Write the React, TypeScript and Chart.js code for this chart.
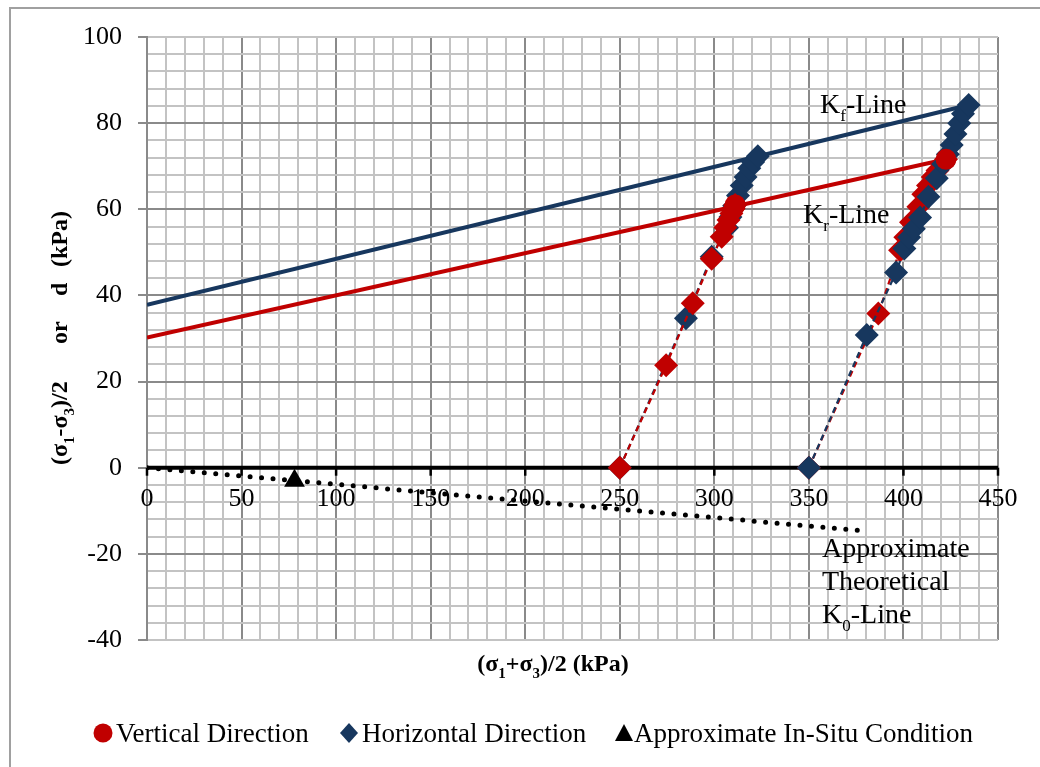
import React, { useEffect, useRef } from "react";
import { Chart, registerables } from "chart.js";

Chart.register(...registerables);

const FONT = '"Liberation Serif", "Times New Roman", serif';
const RED = "#C00000";
const NAVY = "#17375E";
const GRID_MAJOR = "#8a8a8a";
const GRID_MINOR = "#c3c3c3";

const X_MIN = 0;
const X_MAX = 450;
const Y_MIN = -40;
const Y_MAX = 100;
const xLabelValues = [0, 50, 100, 150, 200, 250, 300, 350, 400, 450];

// Vertical direction, test 1 (low confinement)
const vert1X = [250, 274.5, 288.6, 298.6, 303.9, 305.8, 307.5, 309, 310.2, 311];
const vert1Y = [0, 23.8, 38.2, 48.5, 53.6, 55.8, 57.5, 59, 60.2, 61];
// Horizontal direction, test 1
const horiz1X = [250, 285, 298.6, 306.7, 308.5, 310.5, 312.5, 314.5, 316.5, 318.5, 320.5, 323];
const horiz1Y = [0, 34.7, 49, 55.7, 58.2, 60.8, 63.2, 65.5, 67.5, 69.5, 71, 72.3];
// Vertical direction, test 2
const vert2X = [350, 386.7, 398.2, 401, 404, 407.9, 410.5, 413, 415.5, 418, 420.5, 422.5];
const vert2Y = [0, 35.8, 50.5, 53.5, 57, 60.6, 63.5, 65.5, 67.5, 69, 70.5, 71.6];
// Horizontal direction, test 2
const horiz2X = [350, 380.6, 396.1, 400.5, 403, 405.5, 408.8, 413.2, 417.6, 421, 423.5, 425.5, 427.5, 429.5, 431.5, 434.5];
const horiz2Y = [0, 30.8, 45.3, 50.9, 53.5, 55.5, 58.1, 62.9, 67.2, 70.5, 72.8, 74.9, 77.5, 80, 82.2, 84.2];
// Peak (failure) points, vertical direction
const peakX = [311, 422.5];
const peakY = [61, 71.6];
// Failure envelopes
const kfX = [0, 434.5];
const kfY = [37.8, 84.2];
const krX = [0, 422.5];
const krY = [30.2, 71.6];
// Approximate theoretical K0 line
const k0X = [0, 378];
const k0Y = [0, -14.6];
// Approximate in-situ condition
const inSituX = [78];
const inSituY = [-3];

const zip = (xs: number[], ys: number[]) => xs.map((x, i) => ({ x, y: ys[i] }));

type Seg = { t: string; sub?: boolean };

function drawRich(
  ctx: CanvasRenderingContext2D,
  segs: Seg[],
  x: number,
  y: number,
  size: number,
  weight: string,
  align: "left" | "center"
) {
  const subSize = Math.round(size * 0.62);
  const f = (s: number) => `${weight} ${s}px ${FONT}`;
  let total = 0;
  for (const s of segs) {
    ctx.font = f(s.sub ? subSize : size);
    total += ctx.measureText(s.t).width;
  }
  let cx = align === "center" ? x - total / 2 : x;
  ctx.textAlign = "left";
  ctx.textBaseline = "alphabetic";
  for (const s of segs) {
    ctx.font = f(s.sub ? subSize : size);
    ctx.fillText(s.t, cx, s.sub ? y + size * 0.3 : y);
    cx += ctx.measureText(s.t).width;
  }
}

const overlayPlugin = {
  id: "overlay",
  beforeDatasetsDraw(chart: any) {
    const { ctx, scales, chartArea } = chart;
    const xs = scales.x;
    const ys = scales.y;
    const y0 = ys.getPixelForValue(0);
    ctx.save();
    // zero line
    ctx.strokeStyle = "#000";
    ctx.lineWidth = 4;
    ctx.beginPath();
    ctx.moveTo(chartArea.left, y0);
    ctx.lineTo(chartArea.right, y0);
    ctx.stroke();
    // tick marks
    ctx.lineWidth = 2.5;
    for (const v of xLabelValues) {
      const px = xs.getPixelForValue(v);
      ctx.beginPath();
      ctx.moveTo(px, y0);
      ctx.lineTo(px, y0 + 8);
      ctx.stroke();
    }
    // tick labels
    ctx.fillStyle = "#000";
    ctx.font = `26px ${FONT}`;
    ctx.textAlign = "center";
    ctx.textBaseline = "middle";
    for (const v of xLabelValues) {
      ctx.fillText(String(v), xs.getPixelForValue(v), y0 + 31);
    }
    ctx.restore();
  },
  afterDraw(chart: any) {
    const { ctx } = chart;
    ctx.save();
    ctx.fillStyle = "#000";

    // outer chart border
    ctx.strokeStyle = "#a0a0a0";
    ctx.lineWidth = 2;
    ctx.strokeRect(10, 8, 1100, 900);

    // x axis title
    drawRich(
      ctx,
      [{ t: "(σ" }, { t: "1", sub: true }, { t: "+σ" }, { t: "3", sub: true }, { t: ")/2 (kPa)" }],
      553,
      671,
      24,
      "bold",
      "center"
    );

    // y axis title (rotated)
    ctx.save();
    ctx.translate(67, 0);
    ctx.rotate(-Math.PI / 2);
    drawRich(
      ctx,
      [{ t: "(σ" }, { t: "1", sub: true }, { t: "-σ" }, { t: "3", sub: true }, { t: ")/2" }],
      -465,
      0,
      24,
      "bold",
      "left"
    );
    drawRich(ctx, [{ t: "or" }], -344, 0, 24, "bold", "left");
    drawRich(ctx, [{ t: "d" }], -296, 0, 24, "bold", "left");
    drawRich(ctx, [{ t: "(kPa)" }], -267, 0, 24, "bold", "left");
    ctx.restore();

    // annotations
    ctx.fillStyle = "#000";
    drawRich(ctx, [{ t: "K" }, { t: "f", sub: true }, { t: "-Line" }], 820, 113, 28, "normal", "left");
    drawRich(ctx, [{ t: "K" }, { t: "r", sub: true }, { t: "-Line" }], 803, 223, 28, "normal", "left");
    drawRich(ctx, [{ t: "Approximate" }], 822, 557, 28, "normal", "left");
    drawRich(ctx, [{ t: "Theoretical" }], 822, 590, 28, "normal", "left");
    drawRich(ctx, [{ t: "K" }, { t: "0", sub: true }, { t: "-Line" }], 822, 623, 28, "normal", "left");

    // legend
    const ly = 733;
    ctx.fillStyle = RED;
    ctx.beginPath();
    ctx.arc(103, ly, 9.5, 0, Math.PI * 2);
    ctx.fill();
    ctx.fillStyle = NAVY;
    ctx.beginPath();
    ctx.moveTo(349, ly - 10);
    ctx.lineTo(358, ly);
    ctx.lineTo(349, ly + 10);
    ctx.lineTo(340, ly);
    ctx.closePath();
    ctx.fill();
    ctx.fillStyle = "#000";
    ctx.beginPath();
    ctx.moveTo(624, ly - 9);
    ctx.lineTo(633, ly + 8);
    ctx.lineTo(615, ly + 8);
    ctx.closePath();
    ctx.fill();
    ctx.font = `27px ${FONT}`;
    ctx.textAlign = "left";
    ctx.textBaseline = "alphabetic";
    ctx.fillText("Vertical Direction", 116, 742);
    ctx.fillText("Horizontal Direction", 362, 742);
    ctx.fillText("Approximate In-Situ Condition", 634, 742);
    ctx.restore();
  },
};

export default function App() {
  const ref = useRef<HTMLCanvasElement>(null);

  useEffect(() => {
    document.body.style.margin = "0";
    const dashed = (color: string, data: { x: number; y: number }[], order: number) => ({
      data,
      showLine: true,
      borderColor: color,
      backgroundColor: color,
      borderWidth: 2.2,
      borderDash: [6, 4],
      pointStyle: "rectRot",
      pointRadius: 12,
      pointBorderWidth: 0,
      order,
    });

    const chart = new Chart(ref.current as HTMLCanvasElement, {
      type: "scatter",
      data: {
        datasets: [
          {
            label: "Approximate In-Situ Condition",
            data: zip(inSituX, inSituY),
            pointStyle: "triangle",
            pointRadius: 12,
            backgroundColor: "#000",
            borderColor: "#000",
            pointBorderWidth: 0,
            order: 0,
          },
          {
            label: "Vertical Direction",
            data: zip(peakX, peakY),
            pointStyle: "circle",
            pointRadius: 10.5,
            backgroundColor: RED,
            borderColor: RED,
            pointBorderWidth: 0,
            order: 1,
          },
          { label: "Horizontal 2", ...dashed(NAVY, zip(horiz2X, horiz2Y), 2) },
          { label: "Vertical 2", ...dashed(RED, zip(vert2X, vert2Y), 3) },
          { label: "Vertical 1", ...dashed(RED, zip(vert1X, vert1Y), 4) },
          { label: "Horizontal 1", ...dashed(NAVY, zip(horiz1X, horiz1Y), 5) },
          {
            label: "Kf-Line",
            data: zip(kfX, kfY),
            showLine: true,
            borderColor: NAVY,
            borderWidth: 4,
            pointRadius: 0,
            order: 6,
          },
          {
            label: "Kr-Line",
            data: zip(krX, krY),
            showLine: true,
            borderColor: RED,
            borderWidth: 4,
            pointRadius: 0,
            order: 7,
          },
          {
            label: "K0-Line",
            data: zip(k0X, k0Y),
            showLine: true,
            borderColor: "#000",
            borderWidth: 5,
            borderDash: [0, 11.5],
            borderCapStyle: "round",
            pointRadius: 0,
            order: 8,
          },
        ],
      },
      options: {
        responsive: false,
        animation: false,
        devicePixelRatio: 1,
        layout: { padding: { left: 0, right: 42, top: 37, bottom: 0 } },
        plugins: {
          legend: { display: false },
          tooltip: { enabled: false },
        },
        scales: {
          x: {
            type: "linear",
            min: X_MIN,
            max: X_MAX,
            ticks: { display: false, stepSize: 10, maxTicksLimit: 100 },
            grid: {
              color: (c: any) => (c.tick && c.tick.value % 50 === 0 ? GRID_MAJOR : GRID_MINOR),
              lineWidth: 2,
              drawTicks: false,
            },
            border: { display: false },
            afterFit: (s: any) => {
              s.height = 127;
            },
          },
          y: {
            type: "linear",
            min: Y_MIN,
            max: Y_MAX,
            ticks: {
              stepSize: 4,
              autoSkip: false,
              maxTicksLimit: 100,
              padding: 16,
              color: "#000",
              font: { family: FONT, size: 26 },
              callback: (v: any) => (Number(v) % 20 === 0 ? String(v) : ""),
            },
            grid: {
              color: (c: any) => {
                const v = c.tick ? c.tick.value : 1;
                if (v === Y_MAX || v === Y_MIN) return GRID_MINOR;
                return v % 20 === 0 ? GRID_MAJOR : GRID_MINOR;
              },
              lineWidth: 2,
              tickLength: 9,
              tickWidth: 2,
              tickColor: (c: any) => (c.tick && c.tick.value % 20 === 0 ? GRID_MAJOR : "rgba(0,0,0,0)"),
            },
            border: { color: GRID_MAJOR, width: 2 },
            afterFit: (s: any) => {
              s.width = 147;
            },
          },
        },
      },
      plugins: [overlayPlugin],
    } as any);

    return () => chart.destroy();
  }, []);

  return (
    <div style={{ width: 1040, height: 767 }}>
      <canvas ref={ref} width={1040} height={767} style={{ display: "block" }} />
    </div>
  );
}
